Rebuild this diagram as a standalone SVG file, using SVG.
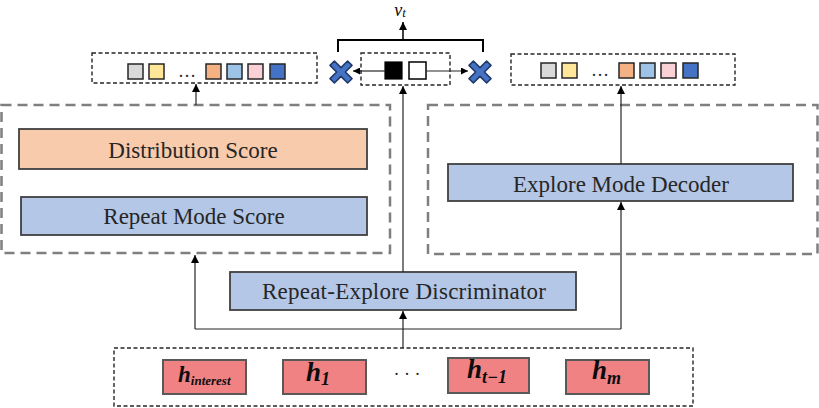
<svg xmlns="http://www.w3.org/2000/svg" width="819" height="408" viewBox="0 0 819 408">
<defs>
<marker id="ah" viewBox="0 0 10 10" refX="10" refY="5" markerWidth="8" markerHeight="8" markerUnits="userSpaceOnUse" orient="auto">
<path d="M0,0 L10,5 L0,10 z" fill="#000"/>
</marker>
<marker id="ahs" viewBox="0 0 10 10" refX="10" refY="5" markerWidth="7" markerHeight="7" markerUnits="userSpaceOnUse" orient="auto">
<path d="M0,0 L10,5 L0,10 z" fill="#000"/>
</marker>
<path id="xmark" d="M-10,-6 L-6,-10 L0,-4 L6,-10 L10,-6 L4,0 L10,6 L6,10 L0,4 L-6,10 L-10,6 L-4,0 Z"/>
</defs>
<style>
.bigdash{fill:none;stroke:#7f7f7f;stroke-width:2.5;stroke-dasharray:10 6}
.smalldash{fill:none;stroke:#262626;stroke-width:1.4;stroke-dasharray:4 2.5}
.box{stroke:#404040;stroke-width:1.8}
.orange{fill:#f8cbad}
.blue{fill:#b4c7e7}
.hbox{fill:#f08284;stroke:#595959;stroke-width:2}
.lbl{font-family:"Liberation Serif","Times New Roman",serif;font-size:23px;fill:#262626;text-anchor:middle}
.hl{font-family:"Liberation Serif","Times New Roman",serif;font-style:italic;font-weight:bold;fill:#0d0d0d}
.sq{stroke:#262626;stroke-width:1.5}
.conn{fill:none;stroke:#262626;stroke-width:1.2}
.xm{fill:#4472c4;stroke:#203864;stroke-width:1.4;stroke-linejoin:round}
.dots{font-family:"Liberation Serif",serif;font-size:18px;fill:#262626;text-anchor:middle}
</style>

<g id="repeat-module">
<rect class="bigdash" x="1.5" y="105" width="388.5" height="148"/>
</g>
<g id="explore-module">
<rect class="bigdash" x="428" y="105" width="389.5" height="149"/>
</g>

<g id="distribution-score">
<rect class="box orange" x="19" y="129" width="348" height="40"/>
<text class="lbl" x="193" y="158">Distribution Score</text>
</g>
<g id="repeat-mode-score">
<rect class="box blue" x="21" y="197" width="346" height="38"/>
<text class="lbl" x="194" y="224">Repeat Mode Score</text>
</g>
<g id="explore-mode-decoder">
<rect class="box blue" x="448" y="164" width="345" height="37"/>
<text class="lbl" x="621" y="192">Explore Mode Decoder</text>
</g>
<g id="discriminator">
<rect class="box blue" x="230" y="272" width="346" height="38"/>
<text class="lbl" x="404" y="299" textLength="284">Repeat-Explore Discriminator</text>
</g>

<g id="repeat-output">
<rect class="smalldash" x="92" y="53" width="225" height="30"/>
<rect class="sq" x="128" y="64" width="15" height="15" fill="#d9d9d9"/>
<rect class="sq" x="149" y="64" width="15" height="15" fill="#ffe699"/>
<text class="dots" x="187" y="77">…</text>
<rect class="sq" x="206" y="64" width="15" height="15" fill="#f4b183"/>
<rect class="sq" x="227" y="64" width="15" height="15" fill="#9dc3e6"/>
<rect class="sq" x="248" y="64" width="15" height="15" fill="#f8d0d5"/>
<rect class="sq" x="270" y="64" width="15" height="15" fill="#4472c4"/>
</g>

<g id="explore-output">
<rect class="smalldash" x="511" y="54" width="224" height="31"/>
<rect class="sq" x="541" y="63" width="15" height="15" fill="#d9d9d9"/>
<rect class="sq" x="562" y="63" width="15" height="15" fill="#ffe699"/>
<text class="dots" x="600" y="76">…</text>
<rect class="sq" x="619" y="63" width="15" height="15" fill="#f4b183"/>
<rect class="sq" x="640" y="63" width="15" height="15" fill="#9dc3e6"/>
<rect class="sq" x="661" y="63" width="15" height="15" fill="#f8d0d5"/>
<rect class="sq" x="683" y="63" width="15" height="15" fill="#4472c4"/>
</g>

<g id="switch">
<rect class="smalldash" x="361" y="53" width="89" height="32"/>
<rect x="385" y="62" width="17" height="17" fill="#000" stroke="#000" stroke-width="1.2"/>
<rect x="409" y="62" width="17" height="17" fill="#fff" stroke="#000" stroke-width="1.5"/>
</g>

<g id="x-left">
<use href="#xmark" class="xm" transform="translate(341,72) scale(1.1)"/>
</g>
<g id="x-right">
<use href="#xmark" class="xm" transform="translate(480,72) scale(1.1)"/>
</g>

<g id="output-vt">
<text x="400" y="16" font-family="'Liberation Serif',serif" font-style="italic" font-size="18" fill="#0d0d0d" text-anchor="middle">v<tspan font-size="13" dy="1">t</tspan></text>
</g>

<g id="inputs">
<rect class="smalldash" x="114" y="348" width="579" height="58"/>
<g id="h-interest">
<rect class="hbox" x="163" y="360" width="83" height="34"/>
<text class="hl" x="178" y="382" font-size="23">h<tspan font-size="13" dy="3">interest</tspan></text>
</g>
<g id="h-1">
<rect class="hbox" x="283" y="360" width="83" height="34"/>
<text class="hl" x="306" y="381" font-size="27">h<tspan font-size="18" dy="4">1</tspan></text>
</g>
<text class="dots" x="407" y="380">· · ·</text>
<g id="h-t-1">
<rect class="hbox" x="448" y="358" width="81" height="35"/>
<text class="hl" x="467" y="378" font-size="27">h<tspan font-size="18" dy="5">t−1</tspan></text>
</g>
<g id="h-m">
<rect class="hbox" x="566" y="360" width="83" height="34"/>
<text class="hl" x="592" y="379" font-size="27">h<tspan font-size="18" dy="5">m</tspan></text>
</g>
</g>

<g id="connectors">
<path class="conn" d="M403,348 L403,311" marker-end="url(#ah)"/>
<path class="conn" d="M195,329 L621,329"/>
<path class="conn" d="M195,329 L195,255" marker-end="url(#ah)"/>
<path class="conn" d="M621,329 L621,202" marker-end="url(#ah)"/>
<path class="conn" d="M403,272 L403,86" marker-end="url(#ah)"/>
<path class="conn" d="M196,105 L196,84" marker-end="url(#ah)"/>
<path class="conn" d="M621,164 L621,86" marker-end="url(#ah)"/>
<path class="conn" d="M385,71 L353,71" marker-end="url(#ahs)"/>
<path class="conn" d="M426,71 L468,71" marker-end="url(#ahs)"/>
<path fill="none" stroke="#000" stroke-width="2" d="M338,52 L338,40 L483,40 L483,52"/>
<path fill="none" stroke="#000" stroke-width="1.5" d="M403,40 L403,22" marker-end="url(#ah)"/>
</g>
</svg>
